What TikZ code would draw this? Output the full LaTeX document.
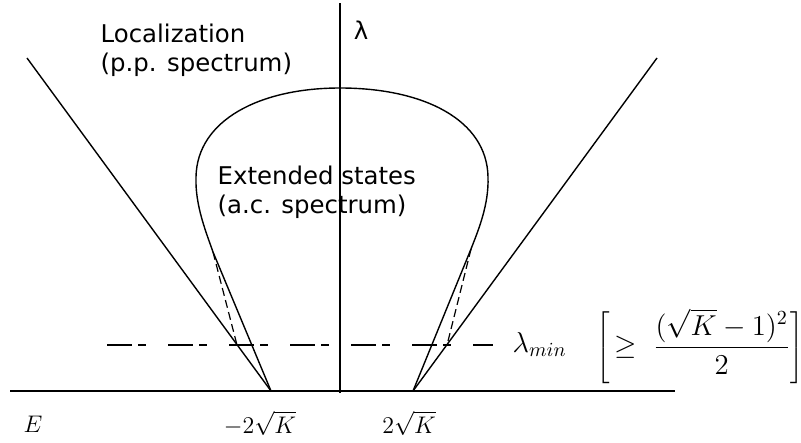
\documentclass[tikz,border=0pt]{standalone}
\usepackage{fontspec}
\newfontfamily\labelfont{DejaVu Sans}
\begin{document}
\begin{tikzpicture}[x=0.5pt,y=-0.5pt, line width=0.7pt,
  lbl/.style={font=\labelfont\fontsize{12.2}{14.5}\selectfont, align=left, inner sep=0pt},
  mth/.style={font=\fontsize{12.4}{15}\selectfont, inner sep=0pt},
  mthbig/.style={font=\fontsize{14}{17}\selectfont, inner sep=0pt},
  mthbound/.style={font=\fontsize{14.5}{17.5}\selectfont, inner sep=0pt},
  guide/.style={line width=0.6pt, dash pattern=on 4pt off 2.2pt},
  levelline/.style={line width=0.7pt, dash pattern=on 12.5pt off 3pt on 3.75pt off 11.25pt}]
\useasboundingbox (0,0) rectangle (801,443);
% key points
\coordinate (Lt) at (271,391);
\coordinate (Rt) at (413,391);
\coordinate (Lo) at (27,58);
\coordinate (Ro) at (657,58);
\coordinate (Lc) at (237,345);
\coordinate (Rc) at (447,345);
\coordinate (Lb) at (213,252);
\coordinate (Rb) at (471,249);
\coordinate (ax0) at (10,391);
\coordinate (ax1) at (675,391);
\coordinate (vy0) at (340,393);
\coordinate (vy1) at (340,3);
\coordinate (dl0) at (107,345);
\coordinate (dl1) at (493,345);
% axes
\draw (ax0) -- (ax1);
\draw (vy0) -- (vy1);
% outer lines
\draw (Lo) -- (Lt);
\draw (Ro) -- (Rt);
% pear-shaped curve
\draw (Lt) -- (Lb) .. controls (206,232) and (195,205) .. (196,177)
  .. controls (197,120) and (260,88) .. (340,88)
  .. controls (424,88) and (487,120) .. (488,177)
  .. controls (489,205) and (478,231) .. (Rb) -- (Rt);
% dashed guides
\draw[guide] (Lb) -- (Lc);
\draw[guide] (Rb) -- (Rc);
% lambda_min level
\draw[levelline] (dl0) -- (dl1);
% labels
\node[lbl, anchor=base] (lam) at (361,40) {λ};
\node[lbl, anchor=north west] (loc) at (100,23) {Localization\\(p.p. spectrum)};
\node[lbl, anchor=north west] (ext) at (217,165) {Extended states\\(a.c. spectrum)};
\node[mth, anchor=base] (E) at (33,432) {$E$};
\node[mth, anchor=base] (mk) at (260,433) {$-2\sqrt{K}$};
\node[mth, anchor=base] (pk) at (409,433) {$2\sqrt{K}$};
\node[mthbig, anchor=base west] (lmin) at (512,352) {$\lambda_{min}$};
\node[mthbound, anchor=west] (bnd) at (596,346) {$\displaystyle\left[\,\geq\;\frac{(\sqrt{K}-1)^2}{2}\right]$};
\end{tikzpicture}
\end{document}
